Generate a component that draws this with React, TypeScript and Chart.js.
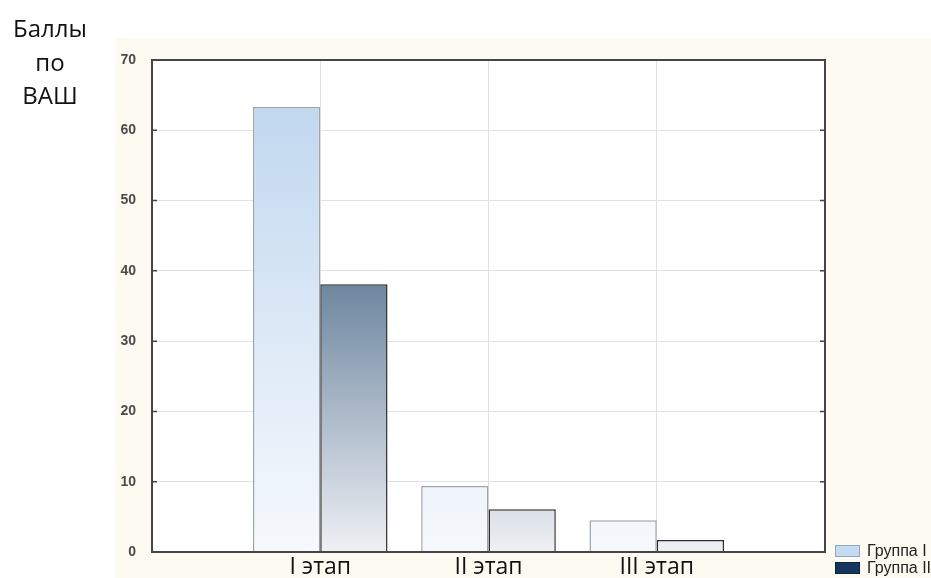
import React, { useEffect, useRef } from "react";
import { Chart, registerables } from "chart.js";

Chart.register(...registerables);

const stages = ["I этап", "II этап", "III этап"];
const group1 = [63.3, 9.4, 4.5];
const group2 = [38.1, 6.1, 1.7];
const seriesNames = ["Группа I", "Группа II"];
const yTicks = [0, 10, 20, 30, 40, 50, 60, 70];
const yTitleLines = ["Баллы", "по", "ВАШ"];

const W = 931;
const H = 578;

function gradient(chart: any, stops: [number, string][]) {
  const { ctx, chartArea } = chart;
  if (!chartArea) return "#ccc";
  const g = ctx.createLinearGradient(0, chartArea.bottom, 0, chartArea.top);
  stops.forEach(([o, c]) => g.addColorStop(o, c));
  return g;
}

const bgPlugin = {
  id: "bgPlugin",
  beforeDraw(chart: any) {
    const { ctx, chartArea } = chart;
    ctx.save();
    ctx.fillStyle = "#fdfaf1";
    ctx.fillRect(115, 38, W - 115, H - 38);
    ctx.fillStyle = "#ffffff";
    ctx.fillRect(chartArea.left, chartArea.top, chartArea.right - chartArea.left, chartArea.bottom - chartArea.top);
    ctx.restore();
  },
  afterDraw(chart: any) {
    const { ctx, chartArea, scales } = chart;
    ctx.save();
    ctx.strokeStyle = "#454545";
    ctx.lineWidth = 2;
    ctx.strokeRect(chartArea.left, chartArea.top, chartArea.right - chartArea.left, chartArea.bottom - chartArea.top);
    ctx.lineWidth = 1.5;
    yTicks.forEach((v) => {
      const y = scales.y.getPixelForValue(v);
      ctx.beginPath();
      ctx.moveTo(chartArea.left, y);
      ctx.lineTo(chartArea.left + 5, y);
      ctx.moveTo(chartArea.right - 5, y);
      ctx.lineTo(chartArea.right, y);
      ctx.stroke();
    });
    ctx.restore();
  },
};

export default function App() {
  const ref = useRef<HTMLCanvasElement>(null);

  useEffect(() => {
    if (!ref.current) return;
    const labels = ["", ...stages, ""];
    const pad = (a: number[]) => [null, ...a, null];
    const chart = new Chart(ref.current, {
      type: "bar",
      data: {
        labels,
        datasets: [
          {
            label: seriesNames[0],
            data: pad(group1) as any,
            backgroundColor: (c: any) =>
              gradient(c.chart, [
                [0, "#f6f9fd"],
                [0.9, "#c2d8ef"],
                [1, "#bcd4ee"],
              ]),
            borderColor: "#9ea4ab",
            borderWidth: 1.5,
            categoryPercentage: 0.8,
            barPercentage: 1.0,
          },
          {
            label: seriesNames[1],
            data: pad(group2) as any,
            backgroundColor: (c: any) =>
              gradient(c.chart, [
                [0, "#eef0f4"],
                [0.543, "#6e87a0"],
                [1, "#5a7590"],
              ]),
            borderColor: "#2e2e2e",
            borderWidth: 1.5,
            categoryPercentage: 0.8,
            barPercentage: 1.0,
          },
        ],
      },
      options: {
        responsive: false,
        animation: false,
        layout: { padding: { left: 0, top: 60, right: 106, bottom: 0 } },
        plugins: { legend: { display: false }, tooltip: { enabled: false } },
        scales: {
          x: {
            offset: false,
            grid: { color: "#e2e2e2", lineWidth: 1, drawTicks: false, offset: false },
            border: { display: false },
            ticks: {
              color: "#111",
              font: { family: "Open Sans", size: 23 },
              padding: 2,
              maxRotation: 0,
              autoSkip: false,
            },
            afterFit: (s: any) => {
              s.height = 26;
            },
          },
          y: {
            min: 0,
            max: 70,
            grid: { color: "#e2e2e2", lineWidth: 1, drawTicks: false },
            border: { display: false },
            ticks: {
              stepSize: 10,
              color: "#4a4a4a",
              font: { family: "Liberation Sans", size: 14, weight: "bold" },
              padding: 16,
            },
            afterFit: (s: any) => {
              s.width = 152;
            },
          },
        },
      },
      plugins: [bgPlugin],
    });
    return () => chart.destroy();
  }, []);

  return (
    <div style={{ position: "absolute", left: 0, top: 0, width: W, height: H, overflow: "hidden", background: "#fff" }}>
      <canvas ref={ref} width={W} height={H} style={{ position: "absolute", left: 0, top: 0, width: W, height: H }} />
      <div
        style={{
          position: "absolute",
          left: 0,
          top: 11,
          width: 100,
          textAlign: "center",
          fontFamily: "Open Sans",
          fontSize: 24,
          lineHeight: "33.5px",
          color: "#111",
        }}
      >
        {yTitleLines.map((t) => (
          <div key={t}>{t}</div>
        ))}
      </div>
      <div style={{ position: "absolute", left: 835, top: 542, fontFamily: "Liberation Sans", fontSize: 16, color: "#222", whiteSpace: "nowrap" }}>
        {seriesNames.map((n, i) => (
          <div key={n} style={{ display: "flex", alignItems: "center", height: 17 }}>
            <span
              style={{
                display: "inline-block",
                width: 25,
                height: 12,
                marginRight: 7,
                boxSizing: "border-box",
                background: i === 0 ? "#c5dbf2" : "#15365c",
                border: i === 0 ? "1px solid #8fa7c0" : "1px solid #0d223c",
              }}
            />
            {n}
          </div>
        ))}
      </div>
    </div>
  );
}
